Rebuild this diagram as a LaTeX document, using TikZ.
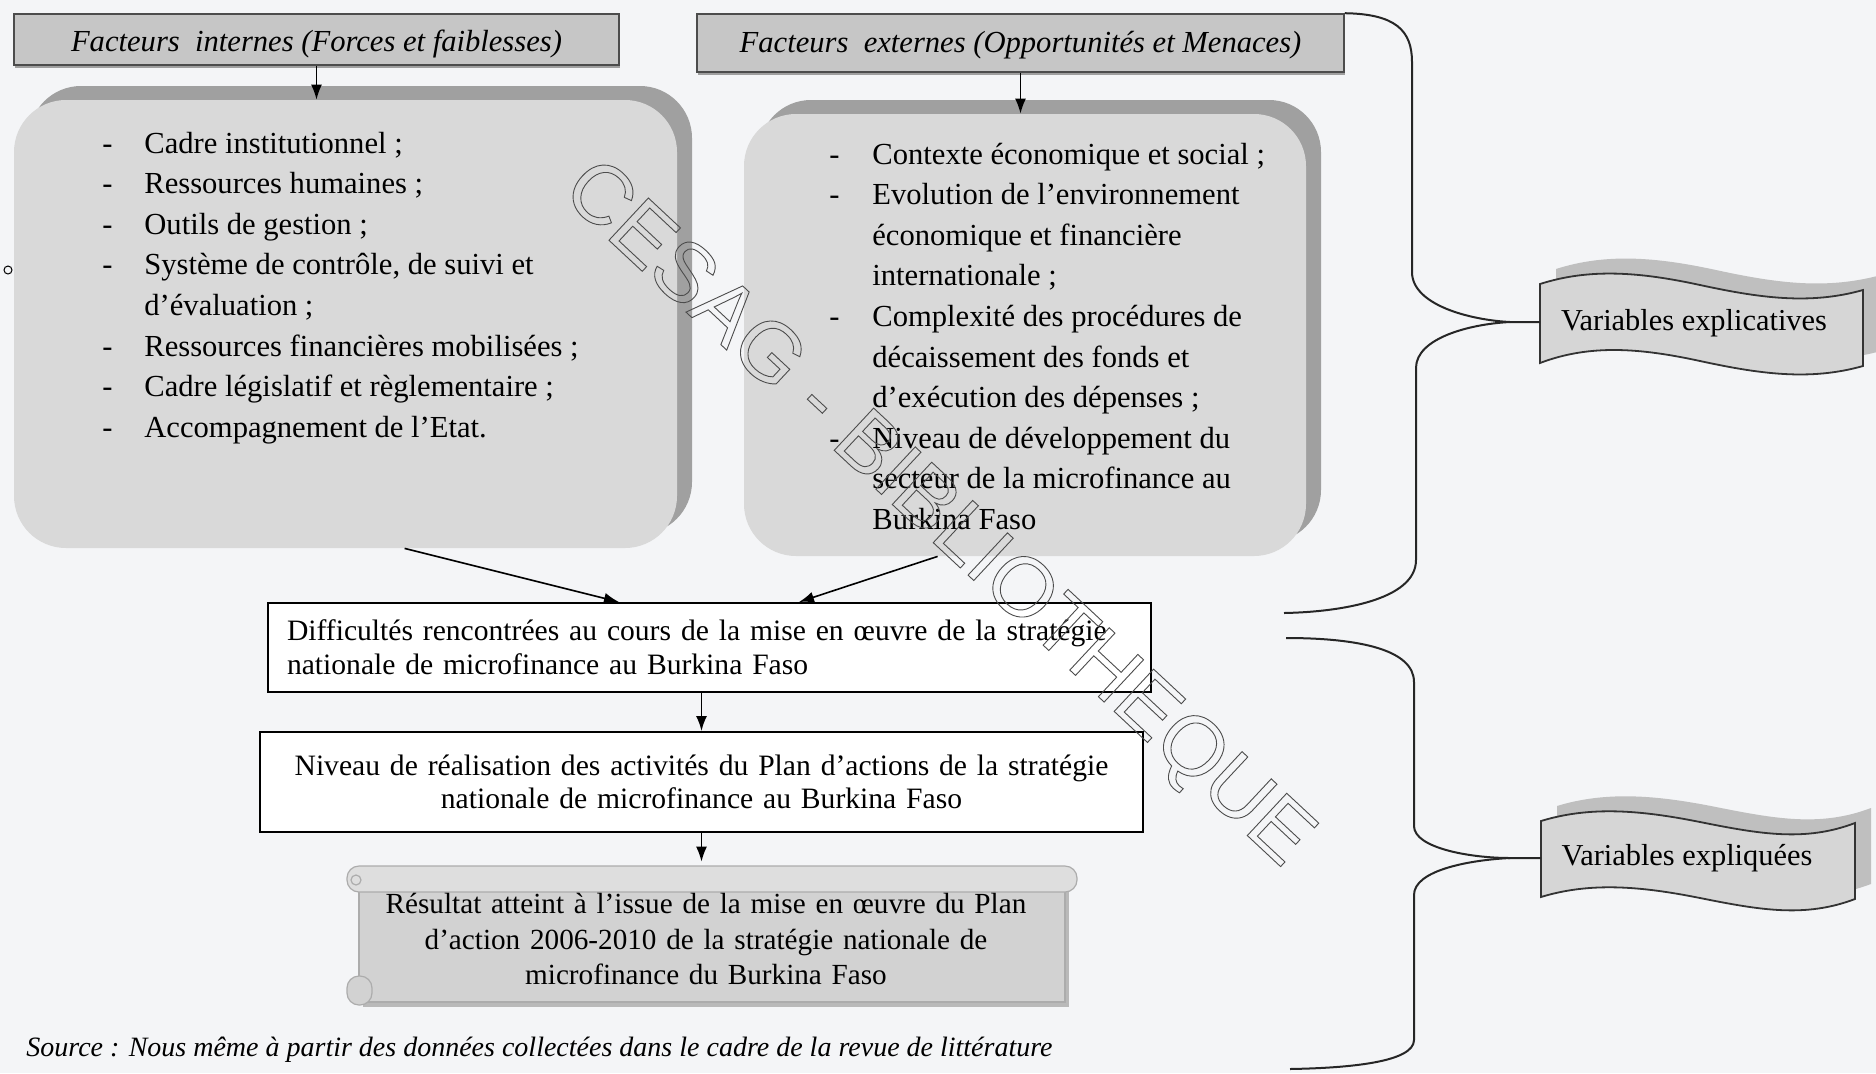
\documentclass[tikz,border=0pt]{standalone}
\usepackage{fontspec}
\setmainfont{Liberation Serif}
\newfontfamily\wmfont{Liberation Sans}
\usetikzlibrary{arrows.meta,shadows,calc}
\definecolor{bgc}{RGB}{244,245,247}
\definecolor{hdrfill}{RGB}{198,198,198}
\definecolor{boxfill}{RGB}{217,217,217}
\definecolor{shadowc}{RGB}{160,160,160}
\definecolor{scrollfill}{RGB}{210,210,210}
\definecolor{scrolltop}{RGB}{222,222,222}
\definecolor{banfill}{RGB}{214,214,214}
\newcommand\mylistfont{\fontsize{15.3}{20.3}\selectfont}
\newcommand\myhdrfont{\fontsize{15.3}{17}\selectfont\itshape}
\newcommand\mymidfont{\fontsize{14.8}{17.1}\selectfont}
\tikzset{
  hdr/.style={draw=black!70, line width=0.8pt, fill=hdrfill, font=\myhdrfont, inner sep=0pt,
    drop shadow={shadow xshift=0.5pt, shadow yshift=-1.5pt, fill=gray!75, opacity=1}},
  rbox/.style={fill=boxfill, rounded corners=26pt, inner sep=0pt,
    drop shadow={shadow xshift=7.5pt, shadow yshift=7pt, fill=shadowc, opacity=1}},
  plainbox/.style={draw=black, line width=1pt, fill=white, inner ysep=0pt, inner xsep=9.5pt, font=\mymidfont},
  arr/.style={-{Latex[length=7.5pt,width=5.5pt]}, line width=0.8pt},
  brace/.style={line width=1pt, black!85},
  listtxt/.style={inner sep=0pt, font=\mylistfont},
  scrollline/.style={draw=gray!65, line width=0.6pt},
  banner/.style={draw=black!80, line width=0.9pt, fill=banfill},
  banshadow/.style={fill=gray!50},
}
\begin{document}
\begin{tikzpicture}[x=0.5pt,y=-0.5pt]
\useasboundingbox (0,0) rectangle (1876,1073);
\fill[bgc] (0,0) rectangle (1876,1073);

% headers
\node[hdr, minimum width=302.5pt, minimum height=25.5pt, text height=13.5pt, text depth=1.7pt] (h1) at (316.5,39.5) {Facteurs~ internes (Forces et faiblesses)};
\node[hdr, minimum width=323.5pt, minimum height=29pt, text height=12.5pt, text depth=2.7pt] (h2) at (1020.5,43) {Facteurs~ externes (Opportunités et Menaces)};

% rounded boxes
\node[rbox, minimum width=331.5pt, minimum height=224pt] (ibox) at (345.5,324) {};
\node[rbox, minimum width=281pt, minimum height=221pt] (ebox) at (1025,335) {};

\node[listtxt, anchor=base west] (ilist) at (102,153) {\begin{tabular}[t]{@{}p{21pt}@{}l@{}}
-&Cadre institutionnel ;\\
-&Ressources humaines ;\\
-&Outils de gestion ;\\
-&Système de contrôle, de suivi et\\
&d’évaluation ;\\
-&Ressources financières mobilisées ;\\
-&Cadre législatif et règlementaire ;\\
-&Accompagnement de l’Etat.
\end{tabular}};

\node[listtxt, anchor=base west] (elist) at (829,164) {\begin{tabular}[t]{@{}p{21.5pt}@{}l@{}}
-&Contexte économique et social ;\\
-&Evolution de l’environnement\\
&économique et financière\\
&internationale ;\\
-&Complexité des procédures de\\
&décaissement des fonds et\\
&d’exécution des dépenses ;\\
-&Niveau de développement du\\
&secteur de la microfinance au\\
&Burkina Faso
\end{tabular}};

\node[circle, draw, inner sep=0pt, minimum size=4pt, line width=0.5pt] (dot) at (8,270) {};

\draw[arr] (h1.south) -- (h1.south |- ibox.north);
\draw[arr] (h2.south) -- (h2.south |- ebox.north);

% middle boxes
\node[plainbox, text width=422.5pt, align=left, minimum height=44.5pt] (D) at (709.5,647.5)
  {Difficultés rencontrées au cours de la mise en œuvre de la stratégie\\nationale de microfinance au Burkina Faso};
\node[plainbox, text width=422.5pt, align=center, minimum height=50pt, font=\fontsize{14.8}{16.8}\selectfont] (N) at (701.5,782)
  {Niveau de réalisation des activités du Plan d’actions de la stratégie\\nationale de microfinance au Burkina Faso};

\draw[arr] ($(ibox.south west)+(391,0)$) -- ($(D.north west)+(352,0)$);
\draw[arr] ($(ebox.south west)+(194,0)$) -- ($(D.north west)+(532,0)$);
\draw[arr] (D.south -| N.north) -- (N.north);

% scroll
\fill[gray!55] (363,888) rectangle (1069,1007);
\draw[scrollline, fill=scrollfill] (359,880) rectangle (1065,1002);
\draw[scrollline, fill=scrolltop, rounded corners=6pt] (347,866) rectangle (1077,892);
\draw[scrollline, fill=scrolltop] (356,880) circle (5);
\draw[scrollline, fill=scrollfill, rounded corners=6pt] (347,976) rectangle (372,1005);
\node[inner sep=0pt, font=\fontsize{14.6}{17.6}\selectfont, align=center, minimum height=77pt, text width=370pt] (R) at (706,939)
  {Résultat atteint à l’issue de la mise en œuvre du Plan\\d’action 2006-2010 de la stratégie nationale de\\microfinance du Burkina Faso};
\draw[arr] (N.south) -- (N.south |- R.north);

% source
\node[anchor=base west, inner sep=0pt, font=\fontsize{14}{16}\selectfont\itshape] (src) at (26,1056)
  {Source : Nous même à partir des données collectées dans le cadre de la revue de littérature};

% banners
\fill[banshadow] (1556,269) .. controls (1606,253) and (1656,257) .. (1716,270) .. controls (1776,283) and (1826,290) .. (1881,275)
  -- (1881,351) .. controls (1826,366) and (1776,359) .. (1716,346) .. controls (1656,333) and (1606,329) .. (1556,348) -- cycle;
\draw[banner] (1540,284) .. controls (1590,268) and (1640,272) .. (1700,285) .. controls (1760,298) and (1810,305) .. (1863,290)
  -- (1863,366) .. controls (1810,381) and (1760,374) .. (1700,361) .. controls (1640,348) and (1590,344) .. (1540,363) -- cycle;
\node[inner sep=0pt, font=\fontsize{15.2}{17}\selectfont] (v1) at (1694,323) {Variables explicatives};
\coordinate (b1l) at (1540,322);

\fill[banshadow] (1557,806) .. controls (1606,791) and (1656,795) .. (1716,807) .. controls (1776,819) and (1821,827) .. (1871,808)
  -- (1871,884) .. controls (1821,903) and (1776,895) .. (1716,883) .. controls (1656,871) and (1606,867) .. (1557,882) -- cycle;
\draw[banner] (1541,821) .. controls (1590,806) and (1640,810) .. (1700,822) .. controls (1760,834) and (1805,842) .. (1855,823)
  -- (1855,899) .. controls (1805,918) and (1760,910) .. (1700,898) .. controls (1640,886) and (1590,882) .. (1541,897) -- cycle;
\node[inner sep=0pt, font=\fontsize{15.2}{17}\selectfont] (v2) at (1687,858) {Variables expliquées};
\coordinate (b2l) at (1541,858);

% braces
\coordinate (e1) at (1284,613);
\coordinate (s2) at (1286,638);
\coordinate (e2) at (1290,1069);
\draw[brace] (h2.north east) .. controls (1395,14) and (1412,30) .. (1412,62) -- (1412,272)
  .. controls (1412,305) and (1470,320) .. (1510,322) -- (b1l);
\draw[brace] (1510,322) .. controls (1470,324) and (1416,338) .. (1416,368) -- (1416,560)
  .. controls (1416,600) and (1340,612) .. (e1);
\draw[brace] (s2) .. controls (1360,638) and (1414,650) .. (1414,682) -- (1414,826)
  .. controls (1414,848) and (1470,858) .. (1510,858) -- (b2l);
\draw[brace] (1510,858) .. controls (1470,860) and (1414,870) .. (1414,895) -- (1414,1040)
  .. controls (1414,1062) and (1350,1068) .. (e2);

% watermark
\node[rotate=-43, inner sep=0pt, font=\wmfont\fontsize{42}{50}\selectfont, text=black!70] (wm) at (936,516)
  {\special{pdf:literal direct 1 Tr 0.45 w}CESAG - BIBLIOTHEQUE\special{pdf:literal direct 0 Tr}};
\end{tikzpicture}
\end{document}
